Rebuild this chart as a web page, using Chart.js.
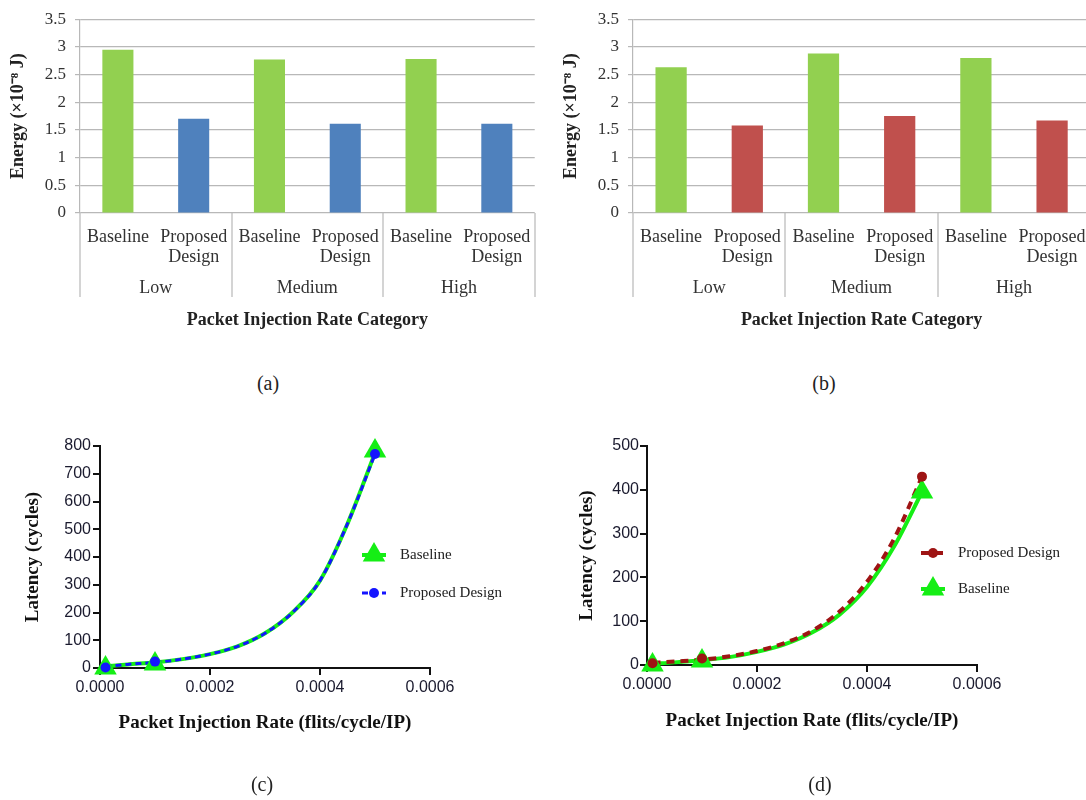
<!DOCTYPE html>
<html>
<head>
<meta charset="utf-8">
<script src="https://cdn.jsdelivr.net/npm/chart.js@4.4.1/dist/chart.umd.min.js"></script>
<style>
    html, body { margin: 0; background: #fff; }
    #page { position: relative; width: 1086px; height: 800px; overflow: hidden; }
    .panel { position: absolute; }
    .cap { position: absolute; font: 20px 'Liberation Serif', serif; color: #222; transform: translate(-50%, -50%); }
</style>
</head>
<body>
<div id="page">
    <div class="panel" style="left:0;top:0;width:545px;height:340px"><canvas id="chartA"></canvas></div>
    <div class="panel" style="left:545px;top:0;width:555px;height:340px"><canvas id="chartB"></canvas></div>
    <div class="panel" style="left:0;top:430px;width:545px;height:370px"><canvas id="chartC"></canvas></div>
    <div class="panel" style="left:545px;top:430px;width:541px;height:370px"><canvas id="chartD"></canvas></div>
    <div class="cap" style="left:268px;top:383px">(a)</div>
    <div class="cap" style="left:824px;top:383px">(b)</div>
    <div class="cap" style="left:262px;top:784px">(c)</div>
    <div class="cap" style="left:820px;top:784px">(d)</div>
</div>
<script>
// energy bars, (a) and (b)
const groups = ['Low', 'Medium', 'High'];
const barLabels = ['Baseline', ['Proposed', 'Design']];
const baselineEnergyA = [2.95, 2.77, 2.78];
const proposedEnergyA = [1.70, 1.61, 1.61];
const baselineEnergyB = [2.63, 2.88, 2.80];
const proposedEnergyB = [1.58, 1.75, 1.67];

// latency, (c) and (d)
const rates = [0.00001, 0.0001, 0.0005];
const baselineLatC = [0, 14, 782];
const proposedLatC = [2, 23, 771];
const baselineLatD = [0, 9, 395];
const proposedLatD = [4, 15, 430];
// fitted curves
const curveRates = [0.00001, 0.00005, 0.0001, 0.00015, 0.0002, 0.00025, 0.0003, 0.00035, 0.0004, 0.00045, 0.0005];
const baselineCurveC = [6, 13, 20, 32, 50, 78, 125, 200, 315, 520, 775];
const proposedCurveC = [6, 13, 20, 32, 50, 78, 125, 200, 315, 520, 771];
const baselineCurveD = [3, 6, 11, 18, 30, 47, 74, 115, 178, 272, 395];
const proposedCurveD = [5, 8, 12, 20, 32, 50, 78, 122, 190, 290, 430];

const SERIF = "'Liberation Serif', 'Times New Roman', serif";
const SANS = "'Liberation Sans', Arial, sans-serif";
const GREEN_BAR = '#92d050';
const GRID = '#b8b8b8';
const LIME = '#15ee15';

const groupLines = {
    id: 'groupLines',
    afterDraw(chart, args, opts) {
        if (!opts.depth) return;
        const { ctx, chartArea } = chart;
        const x2 = chart.scales.x2;
        const n = x2.ticks.length;
        const step = (chartArea.right - chartArea.left) / n;
        ctx.save();
        ctx.strokeStyle = opts.color;
        ctx.lineWidth = 1.2;
        for (let i = 0; i <= n; i++) {
            const x = Math.round(chartArea.left + i * step);
            ctx.beginPath();
            ctx.moveTo(x, chartArea.bottom);
            ctx.lineTo(x, x2.top + opts.depth);
            ctx.stroke();
        }
        ctx.restore();
    },
};

const sideLegend = {
    id: 'sideLegend',
    afterDraw(chart, args, opts) {
        if (!opts.items) return;
        const { ctx, chartArea } = chart;
        ctx.save();
        opts.items.forEach((item, i) => {
            const cx = chartArea.left + opts.x;
            const cy = chartArea.top + opts.y + i * opts.gap;
            const line = chart.data.datasets[item.line];
            const mark = chart.data.datasets[item.mark];
            ctx.strokeStyle = line.borderColor;
            ctx.lineWidth = line.borderWidth;
            ctx.setLineDash(line.borderDash || []);
            ctx.beginPath();
            ctx.moveTo(cx - opts.half, cy);
            ctx.lineTo(cx + opts.half, cy);
            ctx.stroke();
            ctx.setLineDash([]);
            ctx.fillStyle = mark.pointBackgroundColor;
            ctx.strokeStyle = mark.pointBackgroundColor;
            Chart.helpers.drawPoint(ctx, {
                pointStyle: mark.pointStyle,
                radius: mark.pointRadius,
                rotation: 0,
                borderWidth: 0,
            }, cx, cy);
            ctx.fillStyle = '#222';
            ctx.font = '15px ' + SERIF;
            ctx.textBaseline = 'middle';
            ctx.textAlign = 'left';
            ctx.fillText(item.label, cx + opts.textGap, cy);
        });
        ctx.restore();
    },
};

Chart.register(groupLines, sideLegend);

function makeBars(id, baseline, proposed, proposedColor, yWidth, titlePad, rightPad) {
    const labels = [];
    const base = [];
    const prop = [];
    groups.forEach((g, i) => {
        labels.push(barLabels[0], barLabels[1]);
        base.push(baseline[i], null);
        prop.push(null, proposed[i]);
    });
    new Chart(document.getElementById(id), {
        type: 'bar',
        data: {
            labels,
            datasets: [
                { label: 'Baseline', data: base, backgroundColor: GREEN_BAR, skipNull: true,
                  barPercentage: 0.41, categoryPercentage: 1 },
                { label: 'Proposed Design', data: prop, backgroundColor: proposedColor, skipNull: true,
                  barPercentage: 0.41, categoryPercentage: 1 },
            ],
        },
        options: {
            responsive: true,
            maintainAspectRatio: false,
            animation: false,
            layout: { padding: { top: 13, right: rightPad, bottom: 5, left: 0 } },
            plugins: {
                legend: { display: false },
                tooltip: { enabled: false },
                groupLines: { color: GRID, depth: 22 },
            },
            scales: {
                x: {
                    weight: 0,
                    grid: { display: false, drawTicks: false },
                    border: { display: false },
                    ticks: {
                        color: '#333', padding: 14, maxRotation: 0, autoSkip: false,
                        font: { size: 18, family: SERIF, lineHeight: 1.11 },
                    },
                    afterFit: (s) => { s.height = 62; },
                },
                x2: {
                    type: 'category',
                    position: 'bottom',
                    labels: groups,
                    weight: 1,
                    grid: { display: false, drawTicks: false },
                    border: { display: false },
                    ticks: { color: '#333', padding: 3, font: { size: 18, family: SERIF, lineHeight: 1.11 } },
                    title: {
                        display: true,
                        text: 'Packet Injection Rate Category',
                        color: '#222',
                        font: { size: 18, weight: 'bold', family: SERIF },
                        padding: { top: 0, bottom: 4 },
                    },
                    afterFit: (s) => { s.height = 60; },
                },
                y: {
                    min: 0,
                    max: 3.5,
                    grid: { color: GRID, lineWidth: 1.2, tickLength: 5, drawTicks: true },
                    border: { display: true, color: GRID, width: 1.2 },
                    ticks: {
                        stepSize: 0.5, color: '#333', padding: 9,
                        font: { size: 17, family: SERIF },
                        callback: (v) => String(v),
                    },
                    title: {
                        display: true,
                        text: 'Energy (×10⁻⁸ J)',
                        color: '#222',
                        font: { size: 18, weight: 'bold', family: SERIF },
                        padding: { top: titlePad, bottom: 0 },
                    },
                    afterFit: (s) => { s.width = yWidth; },
                },
            },
        },
    });
}

function pts(xs, ys) {
    return xs.map((x, i) => ({ x, y: ys[i] }));
}

function makeLatency(id, opts) {
    const axisFont = { size: 16, family: SANS };
    const titleFont = { size: 19, weight: 'bold', family: SERIF };
    new Chart(document.getElementById(id), {
        type: 'scatter',
        data: {
            datasets: [
                { label: 'Baseline fit', data: pts(curveRates, opts.baseCurve), showLine: true,
                  borderColor: LIME, borderWidth: 4, pointRadius: 0, cubicInterpolationMode: 'monotone',
                  order: 4, clip: false },
                { label: 'Proposed fit', data: pts(curveRates, opts.propCurve), showLine: true,
                  borderColor: opts.propColor, borderWidth: opts.dashWidth, borderDash: opts.dash,
                  pointRadius: 0, cubicInterpolationMode: 'monotone', order: 3, clip: false },
                { label: 'Baseline', data: pts(rates, opts.basePts), showLine: false,
                  pointStyle: 'triangle', pointRadius: 13, pointBackgroundColor: LIME,
                  pointBorderWidth: 0, order: 2, clip: false },
                { label: 'Proposed Design', data: pts(rates, opts.propPts), showLine: false,
                  pointStyle: 'circle', pointRadius: 5, pointBackgroundColor: opts.propColor,
                  pointBorderWidth: 0, order: 1, clip: false },
            ],
        },
        options: {
            responsive: true,
            maintainAspectRatio: false,
            animation: false,
            layout: { padding: { top: 16, right: opts.rightPad, bottom: opts.bottomPad, left: 0 } },
            plugins: {
                legend: { display: false },
                tooltip: { enabled: false },
                sideLegend: opts.legend,
            },
            scales: {
                x: {
                    type: 'linear',
                    min: 0,
                    max: 0.0006,
                    grid: { drawOnChartArea: false, drawTicks: true, tickLength: 7, color: '#111', lineWidth: 2 },
                    border: { color: '#111', width: 2 },
                    ticks: { stepSize: 0.0002, color: '#1a1a2e', padding: 3, font: axisFont,
                             callback: (v) => Number(v).toFixed(4) },
                    title: { display: true, text: 'Packet Injection Rate (flits/cycle/IP)', color: '#111',
                             font: titleFont, padding: { top: 0, bottom: opts.xTitlePad } },
                    afterFit: (s) => { s.height = 70; },
                },
                y: {
                    min: 0,
                    max: opts.yMax,
                    grid: { drawOnChartArea: false, drawTicks: true, tickLength: 7, color: '#111', lineWidth: 2 },
                    border: { color: '#111', width: 2 },
                    ticks: { stepSize: 100, color: '#1a1a2e', padding: opts.yTickPad, font: axisFont },
                    title: { display: true, text: 'Latency (cycles)', color: '#111',
                             font: titleFont, padding: { top: opts.yTitlePad, bottom: 0 } },
                    afterFit: (s) => { s.width = opts.yWidth; },
                },
            },
        },
    });
}

makeBars('chartA', baselineEnergyA, proposedEnergyA, '#4f81bd', 80, 8, 8);
makeBars('chartB', baselineEnergyB, proposedEnergyB, '#c0504d', 88, 16, 5);

makeLatency('chartC', {
    baseCurve: baselineCurveC, propCurve: proposedCurveC,
    basePts: baselineLatC, propPts: proposedLatC,
    propColor: '#1414ff', dash: [6, 4], dashWidth: 3,
    yMax: 800, yWidth: 100, yTickPad: 2, yTitlePad: 22, xTitlePad: 4,
    rightPad: 115, bottomPad: 62,
    legend: {
        x: 274, y: 109, gap: 38, half: 12, textGap: 26,
        items: [
            { label: 'Baseline', line: 0, mark: 2 },
            { label: 'Proposed Design', line: 1, mark: 3 },
        ],
    },
});

makeLatency('chartD', {
    baseCurve: baselineCurveD, propCurve: proposedCurveD,
    basePts: baselineLatD, propPts: proposedLatD,
    propColor: '#9e1414', dash: [8, 6], dashWidth: 4,
    yMax: 500, yWidth: 102, yTickPad: 1, yTitlePad: 31, xTitlePad: 3,
    rightPad: 109, bottomPad: 65,
    legend: {
        x: 286, y: 107, gap: 36, half: 12, textGap: 25,
        items: [
            { label: 'Proposed Design', line: 1, mark: 3 },
            { label: 'Baseline', line: 0, mark: 2 },
        ],
    },
});
</script>
</body>
</html>
